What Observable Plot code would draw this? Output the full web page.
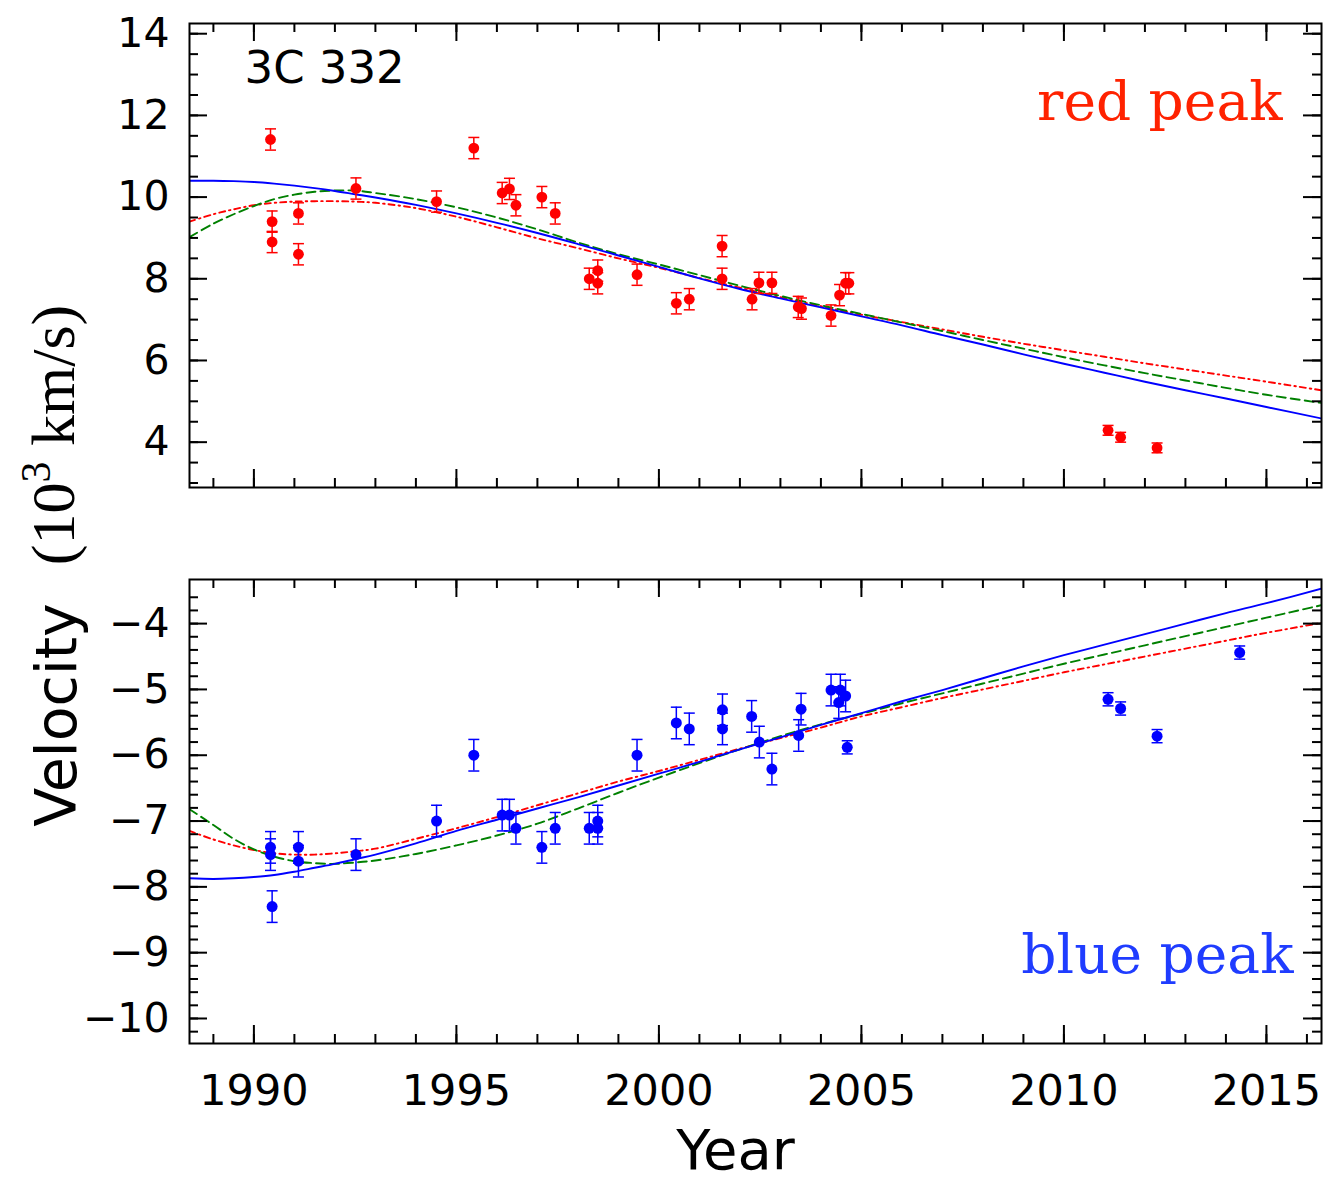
<!DOCTYPE html>
<html><head><meta charset="utf-8">
<script src="https://cdn.jsdelivr.net/npm/d3@7"></script>
<script src="https://cdn.jsdelivr.net/npm/@observablehq/plot@0.6"></script>
<style>
body{margin:0;background:#fff;}
#chart{position:relative;width:1327px;height:1186px;}
#chart svg{position:absolute;left:0;overflow:visible;}
</style></head><body><div id="chart"></div>
<script>
// ---- red peak (top panel) measurements ----
const redYear = [1990.41,1990.45,1990.45,1991.10,1991.10,1992.52,1994.51,1995.43,1996.13,1996.31,1996.47,1997.11,1997.44,1998.28,1998.49,1998.49,1999.46,2000.43,2000.75,2001.56,2001.56,2002.30,2002.47,2002.79,2003.44,2003.52,2004.25,2004.46,2004.61,2004.69,2011.09,2011.40,2012.30];
const redVel  = [11.41,9.40,8.90,9.60,8.60,10.21,9.89,11.20,10.10,10.20,9.80,10.00,9.60,8.00,8.20,7.89,8.10,7.40,7.50,8.80,8.00,7.50,7.90,7.90,7.31,7.27,7.10,7.60,7.89,7.89,4.29,4.12,3.86];
const redErr  = [0.26,0.26,0.26,0.26,0.26,0.26,0.26,0.26,0.26,0.26,0.26,0.26,0.26,0.26,0.26,0.26,0.26,0.26,0.26,0.26,0.26,0.26,0.26,0.26,0.26,0.26,0.26,0.26,0.26,0.26,0.12,0.12,0.12];

// ---- blue peak (bottom panel) measurements ----
const blueYear = [1990.41,1990.41,1990.45,1991.10,1991.10,1992.52,1994.51,1995.43,1996.13,1996.31,1996.47,1997.11,1997.44,1998.28,1998.49,1998.49,1999.46,2000.43,2000.75,2001.57,2001.57,2002.29,2002.48,2002.79,2003.45,2003.51,2004.25,2004.48,2004.44,2004.61,2004.65,2011.09,2011.40,2012.30,2014.34];
const blueVel  = [-7.40,-7.51,-8.30,-7.40,-7.61,-7.51,-7.00,-6.00,-6.91,-6.91,-7.11,-7.40,-7.11,-7.11,-7.00,-7.11,-6.00,-5.51,-5.60,-5.31,-5.60,-5.41,-5.80,-6.21,-5.70,-5.30,-5.01,-5.01,-5.20,-5.10,-5.88,-5.15,-5.29,-5.71,-4.44];
const blueErr  = [0.24,0.24,0.24,0.24,0.24,0.24,0.24,0.24,0.24,0.24,0.24,0.24,0.24,0.24,0.24,0.24,0.24,0.24,0.24,0.24,0.24,0.24,0.24,0.24,0.24,0.24,0.24,0.24,0.24,0.24,0.10,0.10,0.10,0.10,0.10];

// ---- model curves (sampled from the figure) ----
const modelYear = [1988.41,1989,1989.5,1990,1990.5,1991,1991.5,1992,1992.5,1993,1994,1995,1996,1997,1998,1999,2000,2001,2002,2003,2004,2005,2006,2007,2008,2009,2010,2011,2012,2013,2014,2015,2016.36];
const topSolid  = [10.40,10.40,10.39,10.37,10.33,10.28,10.22,10.15,10.07,9.99,9.81,9.60,9.37,9.12,8.85,8.57,8.29,8.01,7.75,7.52,7.30,7.08,6.86,6.62,6.39,6.15,5.92,5.70,5.48,5.27,5.07,4.86,4.58];
const topDashed = [9.02,9.35,9.58,9.78,9.95,10.06,10.13,10.16,10.16,10.10,9.95,9.75,9.50,9.21,8.89,8.60,8.35,8.09,7.83,7.58,7.35,7.14,6.93,6.72,6.50,6.29,6.08,5.88,5.69,5.51,5.33,5.16,4.96];
const topDashDot= [9.40,9.58,9.70,9.80,9.86,9.89,9.90,9.90,9.89,9.86,9.73,9.52,9.26,8.99,8.75,8.50,8.27,8.02,7.78,7.55,7.33,7.12,6.94,6.76,6.58,6.41,6.25,6.09,5.93,5.78,5.63,5.48,5.27];
const botSolid  = [-7.87,-7.88,-7.87,-7.85,-7.82,-7.77,-7.71,-7.65,-7.58,-7.51,-7.34,-7.15,-6.98,-6.81,-6.64,-6.46,-6.28,-6.10,-5.91,-5.73,-5.54,-5.36,-5.18,-5.01,-4.83,-4.65,-4.48,-4.32,-4.16,-4.00,-3.84,-3.69,-3.47];
const botDashed = [-6.82,-7.06,-7.27,-7.43,-7.54,-7.61,-7.64,-7.65,-7.63,-7.60,-7.50,-7.37,-7.22,-7.04,-6.81,-6.57,-6.34,-6.12,-5.91,-5.71,-5.53,-5.37,-5.21,-5.06,-4.91,-4.76,-4.61,-4.47,-4.33,-4.19,-4.05,-3.91,-3.72];
const botDashDot= [-7.15,-7.28,-7.37,-7.44,-7.49,-7.51,-7.51,-7.49,-7.46,-7.42,-7.27,-7.11,-6.94,-6.76,-6.58,-6.40,-6.24,-6.07,-5.90,-5.74,-5.58,-5.41,-5.27,-5.13,-5.00,-4.87,-4.74,-4.62,-4.50,-4.38,-4.26,-4.14,-3.99];

// ---- ticks ----
const xMajor = [1990,1995,2000,2005,2010,2015];
const xMinor = d3.range(1989, 2017, 1);
const topYMajor = [4,6,8,10,12,14];
const topYMinor = d3.range(3, 14.01, 0.5);
const botYMajor = [-10,-9,-8,-7,-6,-5,-4];
const botYMinor = d3.range(-10.2, -3.59, 0.2);

const xDomain = [1988.41, 2016.36];
const topYDomain = [2.89, 14.25];
const botYDomain = [-10.38, -3.33];

// ---- layout ----
const W = 1327, ML = 189, MR = 6, FW = W - ML - MR, FH = 464;
const MAJ = 18, MIN = 9;

const capSymbol = {draw(ctx, size) { const r = Math.sqrt(size / Math.PI); ctx.moveTo(-r, 0); ctx.lineTo(r, 0); }};

function table(xs, ys, es) { return xs.map((x, i) => ({x, y: ys[i], e: es[i]})); }
function curve(ys) { return modelYear.map((x, i) => ({x, y: ys[i]})); }
const fmt = d => String(d).replace("-", "\u2212");

function tickMarks(yMajor, yMinor) {
  const s = {stroke: "black", strokeWidth: 2};
  return [
    Plot.tickY(yMajor, {y: d => d, insetRight: FW - MAJ, ...s}),
    Plot.tickY(yMinor, {y: d => d, insetRight: FW - MIN, ...s}),
    Plot.tickY(yMajor, {y: d => d, insetLeft: FW - MAJ, ...s}),
    Plot.tickY(yMinor, {y: d => d, insetLeft: FW - MIN, ...s}),
    Plot.tickX(xMajor, {x: d => d, insetBottom: FH - MAJ, ...s}),
    Plot.tickX(xMinor, {x: d => d, insetBottom: FH - MIN, ...s}),
    Plot.tickX(xMajor, {x: d => d, insetTop: FH - MAJ, ...s}),
    Plot.tickX(xMinor, {x: d => d, insetTop: FH - MIN, ...s})
  ];
}

function dataMarks(rows, color, r) {
  return [
    Plot.ruleX(rows, {x: "x", y1: d => d.y - d.e, y2: d => d.y + d.e, stroke: color, strokeWidth: 1.5}),
    Plot.dot(rows, {x: "x", y: d => d.y - d.e, r: 5.5, symbol: capSymbol, stroke: color, fill: "none", strokeWidth: 1.5}),
    Plot.dot(rows, {x: "x", y: d => d.y + d.e, r: 5.5, symbol: capSymbol, stroke: color, fill: "none", strokeWidth: 1.5}),
    Plot.dot(rows, {x: "x", y: "y", r, fill: color, stroke: "none"})
  ];
}

function curveMarks(solid, dashed, dashdot) {
  return [
    Plot.line(curve(dashdot), {x: "x", y: "y", stroke: "#ff0000", strokeWidth: 1.9, strokeDasharray: "6,4,1.5,4", curve: "catmull-rom", clip: true}),
    Plot.line(curve(dashed), {x: "x", y: "y", stroke: "#008000", strokeWidth: 1.9, strokeDasharray: "9,5", curve: "catmull-rom", clip: true}),
    Plot.line(curve(solid), {x: "x", y: "y", stroke: "#0000ff", strokeWidth: 1.9, curve: "catmull-rom", clip: true})
  ];
}

const chartDiv = document.getElementById("chart");

// top panel
const topPlot = Plot.plot({
  width: W, height: 500, marginLeft: ML, marginRight: MR, marginTop: 23, marginBottom: 13,
  style: {fontFamily: "DejaVu Sans", background: "transparent", overflow: "visible"},
  x: {domain: xDomain, axis: null},
  y: {domain: topYDomain},
  marks: [
    ...curveMarks(topSolid, topDashed, topDashDot),
    ...dataMarks(table(redYear, redVel, redErr), "#ff0000", 5.4),
    Plot.axisY({ticks: topYMajor, tickSize: 0, tickPadding: 20, tickFormat: fmt, label: null, fontSize: 41}),
    ...tickMarks(topYMajor, topYMinor),
    Plot.text(["3C 332"], {frameAnchor: "top-left", dx: 55, dy: 28, textAnchor: "start", fontSize: 45, fill: "black"}),
    Plot.text(["red peak"], {frameAnchor: "top-right", dx: -39, dy: 57, textAnchor: "end", fontSize: 55, fontFamily: "DejaVu Serif", fill: "#ff2200"}),
    Plot.frame({stroke: "black", strokeWidth: 2})
  ]
});
topPlot.style.top = "0px";
chartDiv.appendChild(topPlot);

// bottom panel
const botPlot = Plot.plot({
  width: W, height: 646, marginLeft: ML, marginRight: MR, marginTop: 39, marginBottom: 143,
  style: {fontFamily: "DejaVu Sans", background: "transparent", overflow: "visible"},
  x: {domain: xDomain},
  y: {domain: botYDomain},
  marks: [
    ...curveMarks(botSolid, botDashed, botDashDot),
    ...dataMarks(table(blueYear, blueVel, blueErr), "#0000ff", 5.5),
    Plot.axisY({ticks: botYMajor, tickSize: 0, tickPadding: 20, tickFormat: fmt, label: null, fontSize: 41}),
    Plot.axisX({ticks: xMajor, tickSize: 0, tickPadding: 31, tickFormat: d => String(d), label: null, fontSize: 43}),
    ...tickMarks(botYMajor, botYMinor),
    Plot.text(["blue peak"], {frameAnchor: "bottom-right", dx: -28, dy: -71, textAnchor: "end", fontSize: 55, fontFamily: "DejaVu Serif", fill: "#1f3cff"}),
    Plot.text(["Year"], {frameAnchor: "bottom", dx: -20, dy: 125, fontSize: 56, fill: "black"}),
    Plot.frame({stroke: "black", strokeWidth: 2})
  ]
});
botPlot.style.top = "540px";
chartDiv.appendChild(botPlot);

// shared y-axis label
const lab = d3.create("svg").attr("width", 130).attr("height", 1186).style("top", "0px");
lab.append("text").attr("transform", "translate(76,715) rotate(-90)").attr("text-anchor", "middle")
  .attr("font-family", "DejaVu Sans").attr("font-size", 57).text("Velocity");
const t2 = lab.append("text").attr("transform", "translate(74,435) rotate(-90)").attr("text-anchor", "middle")
  .attr("font-family", "Liberation Serif").attr("font-size", 62);
t2.append("tspan").text("(10");
t2.append("tspan").attr("dy", -24).attr("font-size", 42).text("3");
t2.append("tspan").attr("dy", 24).text(" km/s)");
chartDiv.appendChild(lab.node());
</script>
</body></html>
